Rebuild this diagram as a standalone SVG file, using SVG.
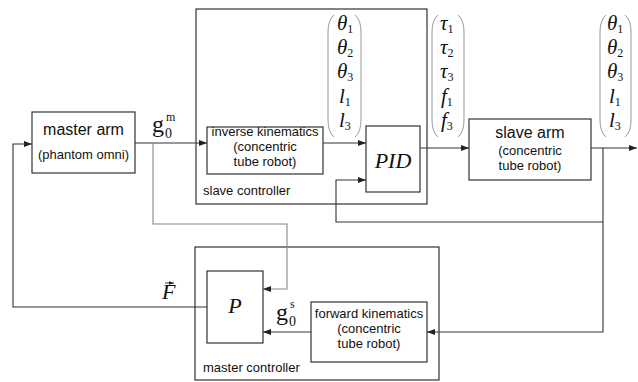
<svg xmlns="http://www.w3.org/2000/svg" width="638" height="382" viewBox="0 0 638 382">
<style>
.box{fill:#fff;stroke:#333;stroke-width:1.2}
.frame{fill:none;stroke:#333;stroke-width:1.2}
.ln{fill:none;stroke:#333;stroke-width:1.1}
.gl{fill:none;stroke:#888;stroke-width:1.1}
.par{fill:none;stroke:#999;stroke-width:1}
.t16{font-family:"Liberation Sans",Arial,sans-serif;font-size:16px;fill:#111;text-anchor:middle}
.t13{font-family:"Liberation Sans",Arial,sans-serif;font-size:13px;fill:#111;text-anchor:middle}
.t13s{font-family:"Liberation Sans",Arial,sans-serif;font-size:13px;fill:#111}
.m{font-family:"Liberation Serif","Times New Roman",serif;font-style:italic;fill:#111}
.mr{font-family:"Liberation Serif","Times New Roman",serif;fill:#111}
.sub{font-style:normal;font-size:12px}
</style>
<defs>
<marker id="ah" viewBox="0 0 8 6" refX="8" refY="3" markerWidth="8" markerHeight="6" markerUnits="userSpaceOnUse" orient="auto">
<path d="M0,0 L8,3 L0,6 z" fill="#222"/>
</marker>
<marker id="ahs" viewBox="0 0 6 4" refX="6" refY="2" markerWidth="5" markerHeight="4" markerUnits="userSpaceOnUse" orient="auto">
<path d="M0,0 L6,2 L0,4 z" fill="#222"/>
</marker>
</defs>

<g id="slave-controller">
<rect class="frame" x="196" y="9" width="231" height="195"/>
<text class="t13s" x="203" y="195">slave controller</text>
</g>
<g id="master-controller">
<rect class="frame" x="195" y="247" width="244" height="133"/>
<text class="t13s" x="203" y="372">master controller</text>
</g>

<g id="connectors">
<path class="ln" d="M135,143 H207" marker-end="url(#ah)"/>
<path class="gl" d="M153,143 V224 H287 V289 H263" marker-end="url(#ah)"/>
<path class="ln" d="M323,143 H366" marker-end="url(#ah)"/>
<path class="ln" d="M420,148 H469" marker-end="url(#ah)"/>
<path class="ln" d="M591,148 H637" marker-end="url(#ah)"/>
<path class="ln" d="M603,148 V332 H427" marker-end="url(#ah)"/>
<path class="ln" d="M603,222 H336 V180 H366" marker-end="url(#ah)"/>
<path class="ln" d="M311,332 H263" marker-end="url(#ah)"/>
<path class="ln" d="M207,307 H13 V144 H32" marker-end="url(#ah)"/>
</g>

<g id="master-arm">
<rect class="box" x="32" y="112" width="103" height="61"/>
<text class="t16" x="83.5" y="135">master arm</text>
<text class="t13" x="83.5" y="159">(phantom omni)</text>
</g>

<g id="inverse-kinematics">
<rect class="box" x="207" y="127" width="116" height="47"/>
<text class="t13" x="265" y="136">inverse kinematics</text>
<text class="t13" x="265" y="151">(concentric</text>
<text class="t13" x="265" y="166">tube robot)</text>
</g>

<g id="pid">
<rect class="box" x="366" y="126" width="54" height="66"/>
<text class="m" x="393" y="168" font-size="22" text-anchor="middle">PID</text>
</g>

<g id="slave-arm">
<rect class="box" x="469" y="119" width="122" height="61"/>
<text class="t16" x="530" y="138">slave arm</text>
<text class="t13" x="530" y="155">(concentric</text>
<text class="t13" x="530" y="170">tube robot)</text>
</g>

<g id="p-block">
<rect class="box" x="207" y="271" width="56" height="72"/>
<text class="m" x="235" y="313" font-size="22" text-anchor="middle">P</text>
</g>

<g id="forward-kinematics">
<rect class="box" x="311" y="302" width="116" height="60"/>
<text class="t13" x="369" y="318">forward kinematics</text>
<text class="t13" x="369" y="333">(concentric</text>
<text class="t13" x="369" y="348">tube robot)</text>
</g>

<g id="vector-joint-ref">
<path class="par" d="M334,15 Q328,20 328,32 V120 Q328,132 334,137"/>
<path class="par" d="M355,15 Q361,20 361,32 V120 Q361,132 355,137"/>
<text class="m" font-size="21" x="337" y="30">θ<tspan class="sub" dy="3">1</tspan></text>
<text class="m" font-size="21" x="337" y="54">θ<tspan class="sub" dy="3">2</tspan></text>
<text class="m" font-size="21" x="337" y="78">θ<tspan class="sub" dy="3">3</tspan></text>
<text class="m" font-size="21" x="339" y="103">l<tspan class="sub" dy="3">1</tspan></text>
<text class="m" font-size="21" x="339" y="127">l<tspan class="sub" dy="3">3</tspan></text>
</g>

<g id="vector-torque">
<path class="par" d="M438,15 Q432,20 432,32 V120 Q432,132 438,137"/>
<path class="par" d="M458,15 Q464,20 464,32 V120 Q464,132 458,137"/>
<text class="m" font-size="21" x="440" y="30">τ<tspan class="sub" dy="3">1</tspan></text>
<text class="m" font-size="21" x="440" y="54">τ<tspan class="sub" dy="3">2</tspan></text>
<text class="m" font-size="21" x="440" y="78">τ<tspan class="sub" dy="3">3</tspan></text>
<text class="m" font-size="21" x="441" y="103">f<tspan class="sub" dy="3">1</tspan></text>
<text class="m" font-size="21" x="441" y="127">f<tspan class="sub" dy="3">3</tspan></text>
</g>

<g id="vector-joint-out">
<path class="par" d="M606,15 Q600,20 600,32 V120 Q600,132 606,137"/>
<path class="par" d="M625,15 Q631,20 631,32 V120 Q631,132 625,137"/>
<text class="m" font-size="21" x="607" y="30">θ<tspan class="sub" dy="3">1</tspan></text>
<text class="m" font-size="21" x="607" y="54">θ<tspan class="sub" dy="3">2</tspan></text>
<text class="m" font-size="21" x="607" y="78">θ<tspan class="sub" dy="3">3</tspan></text>
<text class="m" font-size="21" x="609" y="103">l<tspan class="sub" dy="3">1</tspan></text>
<text class="m" font-size="21" x="609" y="127">l<tspan class="sub" dy="3">3</tspan></text>
</g>

<g id="label-g0m">
<text class="mr" font-size="24" x="152" y="132">g</text>
<text class="mr" font-size="14" x="165" y="138">0</text>
<text class="mr" font-size="12" x="166" y="121">m</text>
</g>

<g id="label-g0s">
<text class="mr" font-size="24" x="276" y="320">g</text>
<text class="mr" font-size="14" x="289" y="326">0</text>
<text class="mr" font-size="12" x="290" y="308">s</text>
</g>

<g id="label-F">
<text class="m" font-size="22" x="162" y="299">F</text>
<path d="M165,283 H174" stroke="#222" stroke-width="0.9" marker-end="url(#ahs)"/>
</g>
</svg>
